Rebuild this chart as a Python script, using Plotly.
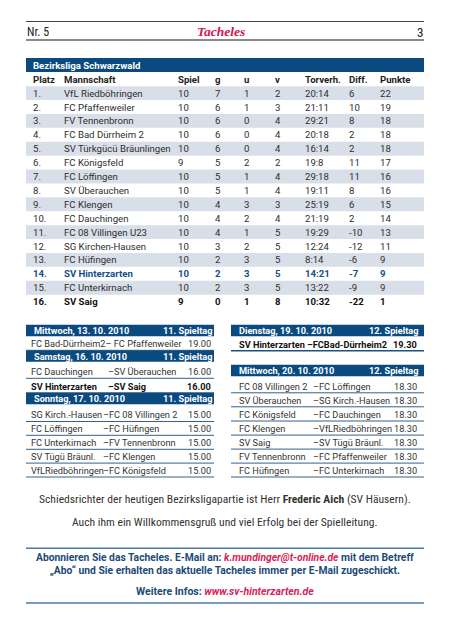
import plotly.graph_objects as go

W, H = 452, 640

# ---------------- data ----------------
col_headers = ["Platz", "Mannschaft", "Spiel", "g", "u", "v", "Torverh.", "Diff.", "Punkte"]
platz = ["1.", "2.", "3.", "4.", "5.", "6.", "7.", "8.", "9.", "10.", "11.", "12.", "13.", "14.", "15.", "16."]
teams = ["VfL Riedböhringen", "FC Pfaffenweiler", "FV Tennenbronn", "FC Bad Dürrheim 2",
         "SV Türkgücü Bräunlingen", "FC Königsfeld", "FC Löffingen", "SV Überauchen",
         "FC Klengen", "FC Dauchingen", "FC 08 Villingen U23", "SG Kirchen-Hausen",
         "FC Hüfingen", "SV Hinterzarten", "FC Unterkirnach", "SV Saig"]
spiele = [10, 10, 10, 10, 10, 9, 10, 10, 10, 10, 10, 10, 10, 10, 10, 9]
gew = [7, 6, 6, 6, 6, 5, 5, 5, 4, 4, 4, 3, 2, 2, 2, 0]
unent = [1, 1, 0, 0, 0, 2, 1, 1, 3, 2, 1, 2, 3, 3, 3, 1]
verl = [2, 3, 4, 4, 4, 2, 4, 4, 3, 4, 5, 5, 5, 5, 5, 8]
tore = ["20:14", "21:11", "29:21", "20:18", "16:14", "19:8", "29:18", "19:11",
        "25:19", "21:19", "19:29", "12:24", "8:14", "14:21", "13:22", "10:32"]
diff = [6, 10, 8, 2, 2, 11, 11, 8, 6, 2, -10, -12, -6, -7, -9, -22]
punkte = [22, 19, 18, 18, 18, 17, 16, 16, 15, 14, 13, 11, 9, 9, 9, 1]

left_days = [("Mittwoch, 13. 10. 2010", "11. Spieltag"),
             ("Samstag, 16. 10. 2010", "11. Spieltag"),
             ("Sonntag, 17. 10. 2010", "11. Spieltag")]
left_games = [
    [("FC Bad-Dürrheim2", "– FC Pfaffenweiler", "19.00")],
    [("FC Dauchingen", "–SV Überauchen", "16.00"),
     ("SV Hinterzarten", "–SV Saig", "16.00")],
    [("SG Kirch.-Hausen", "–FC 08 Villingen 2", "15.00"),
     ("FC Löffingen", "–FC Hüfingen", "15.00"),
     ("FC Unterkirnach", "–FV Tennenbronn", "15.00"),
     ("SV Tügü Bräunl.", "–FC Klengen", "15.00"),
     ("VfLRiedböhringen", "–FC Königsfeld", "15.00")],
]
right_days = [("Dienstag, 19. 10. 2010", "12. Spieltag"),
              ("Mittwoch, 20. 10. 2010", "12. Spieltag")]
right_games = [
    [("SV Hinterzarten", "–FCBad-Dürrheim2", "19.30")],
    [("FC 08 Villingen 2", "–FC Löffingen", "18.30"),
     ("SV Überauchen", "–SG Kirch.-Hausen", "18.30"),
     ("FC Königsfeld", "–FC Dauchingen", "18.30"),
     ("FC Klengen", "–VfLRiedböhringen", "18.30"),
     ("SV Saig", "–SV Tügü Bräunl.", "18.30"),
     ("FV Tennenbronn", "–FC Pfaffenweiler", "18.30"),
     ("FC Hüfingen", "–FC Unterkirnach", "18.30")],
]
home_team = "SV Hinterzarten"

# ---------------- style ----------------
F = "Roboto, sans-serif"
FN = "Liberation Sans Narrow, Roboto Condensed, Arial Narrow, Roboto, sans-serif"
NAVY = "#0b4a7f"
SHADE = "#d9dfe9"
TXT = "#2e2e2e"
BLUE_TXT = "#134f8a"
LINE = "#1e4f7e"
FS = 9.6
FSF = 9.2

shapes = []
ann = []


def rect(x0, x1, y0, y1, color):
    shapes.append(dict(type="rect", xref="x", yref="y", x0=x0, x1=x1, y0=y0, y1=y1,
                       fillcolor=color, line=dict(width=0), layer="below"))


def hline(x0, x1, y, color, w):
    shapes.append(dict(type="line", xref="x", yref="y", x0=x0, x1=x1, y0=y, y1=y,
                       line=dict(color=color, width=w)))


def text(x, y, s, size=FS, color=TXT, anchor="left", family=F, weight="normal", style="normal"):
    ann.append(dict(x=x, y=y, xref="x", yref="y", text=s, showarrow=False,
                    xanchor=anchor, yanchor="middle", borderpad=0,
                    font=dict(family=family, size=size, color=color, weight=weight, style=style)))


# ---------------- page header ----------------
hline(26, 424, 21.5, "#444444", 1)
hline(26, 424, 40, "#8a8a8a", 2)
text(26, 31.5, "Nr. 5", size=12, color="#222222", family=FN)
text(220.5, 31, "Tacheles", size=13.5, color="#d0164b", anchor="center",
     family="Liberation Serif, DejaVu Serif, serif", weight="bold", style="italic")
text(424, 32, "3", size=13, color="#222222", anchor="right", family=FN)

# ---------------- standings table ----------------
TL, TR = 26, 424
rect(TL, TR, 58, 72, NAVY)
text(32, 65, "Bezirksliga Schwarzwald", color="white", weight="bold")
col_x = [32, 62.5, 176.5, 214, 243, 274, 304, 348, 379]
head_y = 79.3
for cx, h in zip(col_x, col_headers):
    text(cx, head_y, h, color="#222222", weight="bold")

y0, pitch = 93.1, 13.9
for i in range(len(teams)):
    y = y0 + pitch * i
    if i % 2 == 0:
        rect(TL, TR, y - pitch / 2, y + pitch / 2, SHADE)
    color = BLUE_TXT if teams[i] == home_team else ("#111111" if i == len(teams) - 1 else TXT)
    weight = "bold" if (teams[i] == home_team or i == len(teams) - 1) else "normal"
    vals = [platz[i], teams[i], str(spiele[i]), str(gew[i]), str(unent[i]), str(verl[i]),
            tore[i], str(diff[i]), str(punkte[i])]
    for cx, v in zip(col_x, vals):
        text(cx, y, v, color=color, weight=weight)


# ---------------- fixtures ----------------
def panel(days, games, x0, x1, hx, ax_list, tx_right, day_y, row_ys, first_line_bold=False):
    for d, (dname, sp) in enumerate(days):
        yb = day_y[d]
        rect(x0, x1, yb - 5.8, yb + 5.8, NAVY)
        text(x0 + 6.5, yb, dname, size=FSF, color="white", weight="bold")
        text(tx_right + 0.5, yb, sp, size=FSF, color="white", weight="bold", anchor="right")
        for g, (h, a, t) in enumerate(games[d]):
            y = row_ys[d][g]
            bold = h == home_team
            col = "#111111" if bold else "#333333"
            wt = "bold" if bold else "normal"
            if ax_list[d] is None:
                text(hx, y, h + a, size=FSF, color=col, weight=wt)
            else:
                text(hx, y, h, size=FSF, color=col, weight=wt)
                text(ax_list[d], y, a, size=FSF, color=col, weight=wt)
            text(tx_right, y, t, size=FSF, color=col, weight=wt, anchor="right")
            lw = 1.6 if (bold and first_line_bold) else 0.9
            hline(x0, x1, y + 6.8, LINE, lw)


panel(left_days, left_games, 26, 214, 30, [None, 107, 102], 212,
      [330.5, 356, 398.5],
      [[343.5], [371.5, 386], [414.7, 428.5, 442.5, 456.3, 470.2]])
panel(right_days, right_games, 231, 424, 237.5, [306, 312], 418,
      [330.5, 370.5],
      [[344], [386, 400, 414.2, 428.3, 442.3, 456.3, 470.2]], first_line_bold=True)

# ---------------- referee text ----------------
text(225, 498.5, "Schiedsrichter der heutigen Bezirksligapartie ist Herr <b>Frederic Aich</b> (SV Häusern).",
     size=11.6, color="#333333", anchor="center", family=FN)
text(225, 522.3, "Auch ihm ein Willkommensgruß und viel Erfolg bei der Spielleitung.",
     size=11.6, color="#333333", anchor="center", family=FN)

# ---------------- footer ----------------
hline(26, 424, 548.3, "#4a78a6", 1.5)
PINK = "#d6245a"
FT = "#1c4a78"
text(225, 564.3, "Abonnieren Sie das Tacheles. E-Mail an: "
     f"<i><span style='color:{PINK}'>k.mundinger@t-online.de</span></i> mit dem Betreff<br>"
     "„Abo“ und Sie erhalten das aktuelle Tacheles immer per E-Mail zugeschickt.",
     size=10.3, color=FT, anchor="center", weight="bold")
text(225, 591.5, f"Weitere Infos: <i><span style='color:{PINK}'>www.sv-hinterzarten.de</span></i>",
     size=10.5, color=FT, anchor="center", weight="bold")
hline(26, 424, 603, "#4a78a6", 1.5)

fig = go.Figure()
fig.add_trace(go.Scatter(x=[0, W], y=[0, H], mode="markers", marker=dict(opacity=0),
                         hoverinfo="skip", showlegend=False))
fig.update_layout(
    width=W, height=H, margin=dict(l=0, r=0, t=0, b=0),
    paper_bgcolor="white", plot_bgcolor="white",
    xaxis=dict(range=[0, W], visible=False, fixedrange=True),
    yaxis=dict(range=[H, 0], visible=False, fixedrange=True),
    shapes=shapes, annotations=ann, showlegend=False,
)
fig.write_html("out.html", config={"displayModeBar": False},
               post_script="document.body.style.margin='0';document.body.style.overflow='hidden';")
